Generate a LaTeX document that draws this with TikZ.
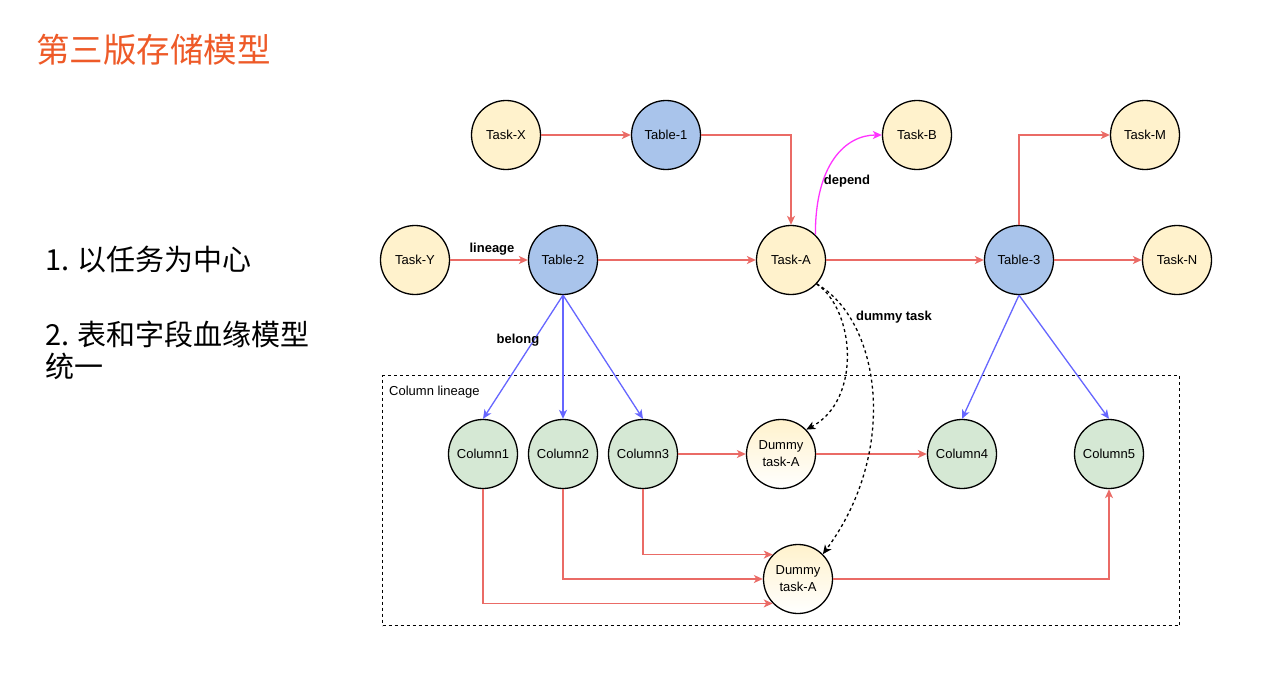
\documentclass[tikz,border=0pt]{standalone}
\usepackage{fontspec}
\setmainfont{Liberation Sans}
\newfontfamily\cjk{Noto Sans CJK SC}
\usetikzlibrary{arrows.meta}
\definecolor{taskfill}{HTML}{FFF2CC}
\definecolor{tablefill}{HTML}{A9C4EB}
\definecolor{colfill}{HTML}{D5E8D4}
\definecolor{redline}{HTML}{EA6B66}
\definecolor{blueline}{HTML}{6666FF}
\definecolor{magline}{HTML}{FF33FF}
\definecolor{titleorange}{HTML}{EE5A28}
\tikzset{
  base/.style={circle, draw=black, line width=1.3pt, minimum size=69pt, inner sep=0pt, font=\fontsize{13}{15}\selectfont, text=black},
  tasknode/.style={base, fill=taskfill},
  tablenode/.style={base, fill=tablefill},
  colnode/.style={base, fill=colfill},
  dummynode/.style={base, top color=taskfill, bottom color=white, align=center, font=\fontsize{13}{17}\selectfont},
  tip/.style={-{Stealth[length=9pt,width=8pt,inset=2.5pt]}},
  redarrow/.style={tip, draw=redline, line width=1.3pt},
  bluearrow/.style={tip, draw=blueline, line width=1.3pt},
  magarrow/.style={tip, draw=magline, line width=1.3pt},
  dasharrow/.style={tip, draw=black, line width=1.3pt, dash pattern=on 3pt off 3pt},
  elabel/.style={font=\bfseries\fontsize{13}{15}\selectfont, inner sep=0pt},
  sidetext/.style={anchor=base west, inner sep=0pt, font=\cjk\fontsize{29}{32}\selectfont},
}
\begin{document}
\begin{tikzpicture}[x=1pt,y=-1pt]
\useasboundingbox (0,0) rectangle (1280,674);
\fill[white] (0,0) rectangle (1280,674);

% titles and left text
\node[anchor=base west, inner sep=0pt, text=titleorange, font=\cjk\fontsize{33.5}{36}\selectfont] (title) at (36,63) {第三版存储模型};
\node[sidetext] (pt1) at (45,270) {1. 以任务为中心};
\node[sidetext] (pt2) at (45,345) {2. 表和字段血缘模型};
\node[sidetext] (pt3) at (45,377) {统一};

% column lineage box
\node[draw=black, line width=1.2pt, dash pattern=on 3pt off 3pt, minimum width=797pt, minimum height=250pt, anchor=north west, inner sep=0pt] (colbox) at (382,375) {};
\node[anchor=west, inner sep=0pt, font=\fontsize{13}{15}\selectfont] (colboxlabel) at (389,392) {Column lineage};

% nodes
\node[tasknode] (taskX) at (506,135) {Task-X};
\node[tablenode] (table1) at (666,135) {Table-1};
\node[tasknode] (taskB) at (917,135) {Task-B};
\node[tasknode] (taskM) at (1145,135) {Task-M};
\node[tasknode] (taskY) at (415,260) {Task-Y};
\node[tablenode] (table2) at (563,260) {Table-2};
\node[tasknode] (taskA) at (791,260) {Task-A};
\node[tablenode] (table3) at (1019,260) {Table-3};
\node[tasknode] (taskN) at (1177,260) {Task-N};
\node[colnode] (col1) at (483,454) {Column1};
\node[colnode] (col2) at (563,454) {Column2};
\node[colnode] (col3) at (643,454) {Column3};
\node[dummynode] (dummy1) at (781,454) {Dummy\\task-A};
\node[colnode] (col4) at (962,454) {Column4};
\node[colnode] (col5) at (1109,454) {Column5};
\node[dummynode] (dummy2) at (798,579) {Dummy\\task-A};

% red lineage edges
\draw[redarrow] (taskX) -- (table1);
\draw[redarrow] (table1.east) -| (taskA.north);
\draw[redarrow] (taskY) -- (table2);
\draw[redarrow] (table2) -- (taskA);
\draw[redarrow] (taskA) -- (table3);
\draw[redarrow] (table3) -- (taskN);
\draw[redarrow] (table3.north) |- (taskM.west);
\draw[redarrow] (col3) -- (dummy1);
\draw[redarrow] (dummy1) -- (col4);
\draw[redarrow] (col3.south) |- (dummy2.136);
\draw[redarrow] (col2.south) |- (dummy2.west);
\draw[redarrow] (col1.south) |- (dummy2.224);
\draw[redarrow] (dummy2.east) -| (col5.south);

% belong edges
\draw[bluearrow] (table2.south) -- (col1.north);
\draw[bluearrow] (table2.south) -- (col2.north);
\draw[bluearrow] (table2.south) -- (col3.north);
\draw[bluearrow] (table3.south) -- (col4.north);
\draw[bluearrow] (table3.south) -- (col5.north);

% depend
\draw[magarrow] (taskA.46) .. controls (815,165) and (845,135) .. (taskB.west);

% dummy task
\draw[dasharrow] (taskA.-43) .. controls (855,310) and (862,400) .. (dummy1.44);
\draw[dasharrow] (taskA.-43) .. controls (880,320) and (900,450) .. (dummy2.45);

% edge labels
\node[elabel] (lbllineage) at (492,249) {lineage};
\node[elabel] (lbldepend) at (847,181) {depend};
\node[elabel] (lblbelong) at (518,340) {belong};
\node[elabel] (lbldummy) at (894,317) {dummy task};
\end{tikzpicture}
\end{document}
